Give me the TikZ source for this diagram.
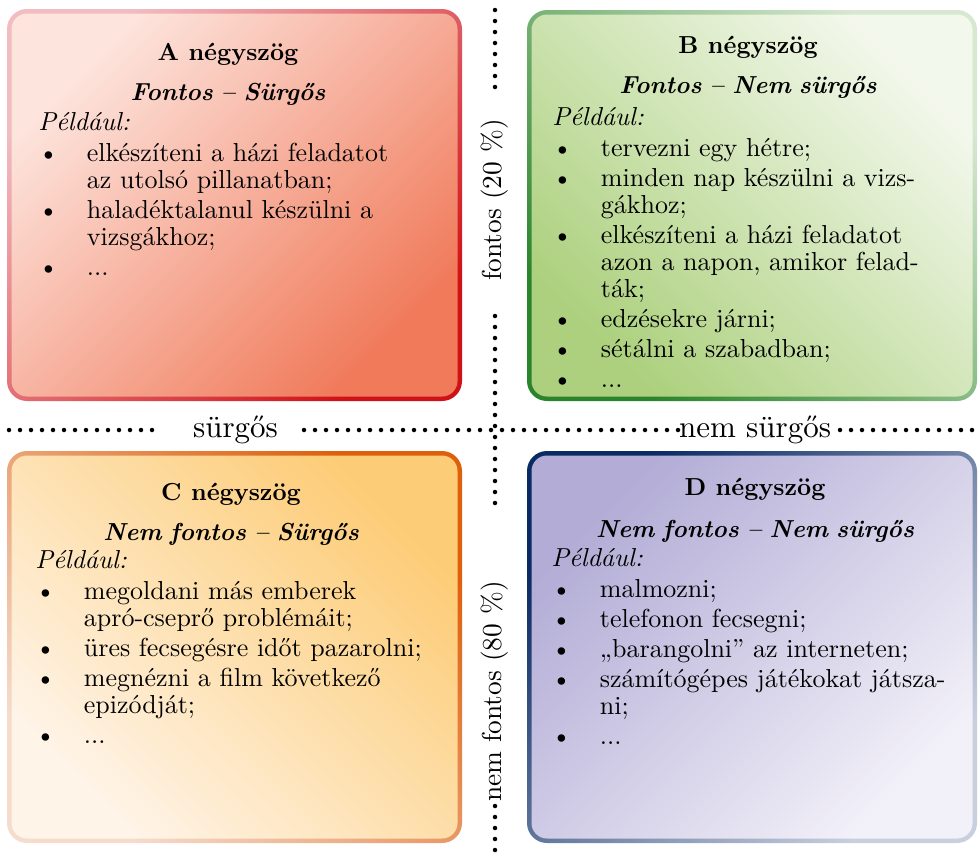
\documentclass[tikz,border=0pt]{standalone}
\usepackage{fontspec}
\setmainfont{lmroman10-regular.otf}[
  BoldFont=lmroman10-bold.otf,
  ItalicFont=lmroman10-italic.otf,
  BoldItalicFont=lmroman10-bolditalic.otf,
  BoldItalicFeatures={WordSpace=0.8}]
\usetikzlibrary{calc}

% colours of the four quadrants
\definecolor{aFillL}{RGB}{253,229,222}
\definecolor{aFillD}{RGB}{240,122,90}
\definecolor{aLineL}{RGB}{242,188,192}
\definecolor{aLineD}{RGB}{208,18,24}
\definecolor{bFillL}{RGB}{243,248,236}
\definecolor{bFillD}{RGB}{172,208,125}
\definecolor{bLineL}{RGB}{214,232,208}
\definecolor{bLineD}{RGB}{42,132,42}
\definecolor{cFillL}{RGB}{254,244,232}
\definecolor{cFillD}{RGB}{253,204,118}
\definecolor{cLineL}{RGB}{245,220,205}
\definecolor{cLineD}{RGB}{222,95,12}
\definecolor{dFillL}{RGB}{242,240,248}
\definecolor{dFillD}{RGB}{178,172,214}
\definecolor{dLineL}{RGB}{200,208,222}
\definecolor{dLineD}{RGB}{10,42,100}

\newcommand\bodysize{\fontsize{13}{13.5}\selectfont}
\newcommand\headsize{\fontsize{12.3}{13.5}\selectfont}

% bullet list used inside the quadrants
\newenvironment{pontok}{%
  \begin{list}{\textbullet}{%
    \setlength\leftmargin{24.25pt}\setlength\labelwidth{24.25pt}%
    \setlength\labelsep{0pt}\setlength\itemindent{0pt}%
    \setlength\itemsep{1.5pt}\setlength\parsep{0pt}%
    \setlength\topsep{2pt}\setlength\partopsep{0pt}%
    \def\makelabel##1{##1\hfill}}}%
  {\end{list}}

\newcommand\peldak[1]{%
  \begin{minipage}[t]{215pt}\bodysize\raggedright\parskip=0pt
  \textit{Például:}
  \begin{pontok}#1\end{pontok}
  \end{minipage}}

\tikzset{
  pontvonal/.style={line width=2.25pt, line cap=round, dash pattern=on 0pt off 5.5pt},
  fejlec/.style={anchor=base, inner sep=0pt, font=\headsize\bfseries},
  alcim/.style={anchor=base, inner sep=0pt, font=\headsize\bfseries\itshape},
  lista/.style={anchor=base west, inner sep=0pt},
  tengely/.style={inner sep=0pt, font=\fontsize{15.5}{16}\selectfont},
  tengelyf/.style={inner sep=0pt, rotate=90, font=\fontsize{13.7}{15}\selectfont},
}

\begin{document}
\begin{tikzpicture}[x=0.5pt,y=-0.5pt]
\useasboundingbox (0,0) rectangle (979,852);

% quadrant A
\shade[top color=aLineL, bottom color=aLineD, shading angle=45, rounded corners=10pt]
  (7,9) rectangle (462,401);
\shade[top color=aFillL, bottom color=aFillD, shading angle=45, rounded corners=7.75pt]
  (11.5,13.5) rectangle (457.5,396.5);
% quadrant B
\shade[top color=bLineL, bottom color=bLineD, shading angle=-45, rounded corners=10pt]
  (527,10) rectangle (977,401);
\shade[top color=bFillL, bottom color=bFillD, shading angle=-45, rounded corners=7.75pt]
  (531.5,14.5) rectangle (972.5,396.5);
% quadrant C
\shade[top color=cLineD, bottom color=cLineL, shading angle=-45, rounded corners=10pt]
  (7,451) rectangle (462,843);
\shade[top color=cFillD, bottom color=cFillL, shading angle=-45, rounded corners=7.75pt]
  (11.5,455.5) rectangle (457.5,838.5);
% quadrant D
\shade[top color=dLineD, bottom color=dLineL, shading angle=45, rounded corners=10pt]
  (527,451) rectangle (977,843);
\shade[top color=dFillD, bottom color=dFillL, shading angle=45, rounded corners=7.75pt]
  (531.5,455.5) rectangle (972.5,838.5);

% axes with their labels
\node[tengely] (surgos) at (235.5,430) {sürgős};
\node[tengely] (nemsurgos) at (755,430) {nem sürgős};
\node[tengelyf] (fontos) at (495,200) {fontos (20 \%)};
\node[tengelyf] (nemfontos) at (495,691.5) {nem fontos (80 \%)};

\coordinate (h1) at (9,430);   \coordinate (h2) at (153,430);
\coordinate (h3) at (304,430); \coordinate (h4) at (678,430);
\coordinate (h5) at (840,430); \coordinate (h6) at (975,430);
\coordinate (v1) at (495,10);  \coordinate (v2) at (495,87);
\coordinate (v3) at (495,316); \coordinate (v4) at (495,513);
\coordinate (v5) at (495,806); \coordinate (v6) at (495,850);
\draw[pontvonal] (h1) -- (h2);
\draw[pontvonal] (h3) -- (h4);
\draw[pontvonal] (h5) -- (h6);
\draw[pontvonal] (v1) -- (v2);
\draw[pontvonal] (v3) -- (v4);
\draw[pontvonal] (v5) -- (v6);

% texts of quadrant A
\node[fejlec] (aFej) at (228,60) {A négyszög};
\node[alcim] (aAl) at (228,100) {Fontos – Sürgős};
\node[lista] (aLista) at (38,130) {\peldak{%
  \item elkészíteni a házi feladatot\\az utolsó pillanatban;
  \item haladéktalanul készülni a\\vizsgákhoz;
  \item ...}};

% texts of quadrant B
\node[fejlec] (bFej) at (748,53) {B négyszög};
\node[alcim] (bAl) at (748,93) {Fontos – Nem sürgős};
\node[lista] (bLista) at (552,125) {\peldak{%
  \item tervezni egy hétre;
  \item minden nap készülni a vizs-\\gákhoz;
  \item elkészíteni a házi feladatot\\azon a napon, amikor felad-\\ták;
  \item edzésekre járni;
  \item sétálni a szabadban;
  \item ...}};

% texts of quadrant C
\node[fejlec] (cFej) at (231,500) {C négyszög};
\node[alcim] (cAl) at (231,540) {Nem fontos – Sürgős};
\node[lista] (cLista) at (35,568) {\peldak{%
  \item megoldani más emberek\\apró-cseprő problémáit;
  \item üres fecsegésre időt pazarolni;
  \item megnézni a film következő\\epizódját;
  \item ...}};

% texts of quadrant D
\node[fejlec] (dFej) at (755,495) {D négyszög};
\node[alcim] (dAl) at (755,537) {Nem fontos – Nem sürgős};
\node[lista] (dLista) at (551,566) {\peldak{%
  \item malmozni;
  \item telefonon fecsegni;
  \item „barangolni” az interneten;
  \item számítógépes játékokat játsza-\\ni;
  \item ...}};
\end{tikzpicture}
\end{document}
